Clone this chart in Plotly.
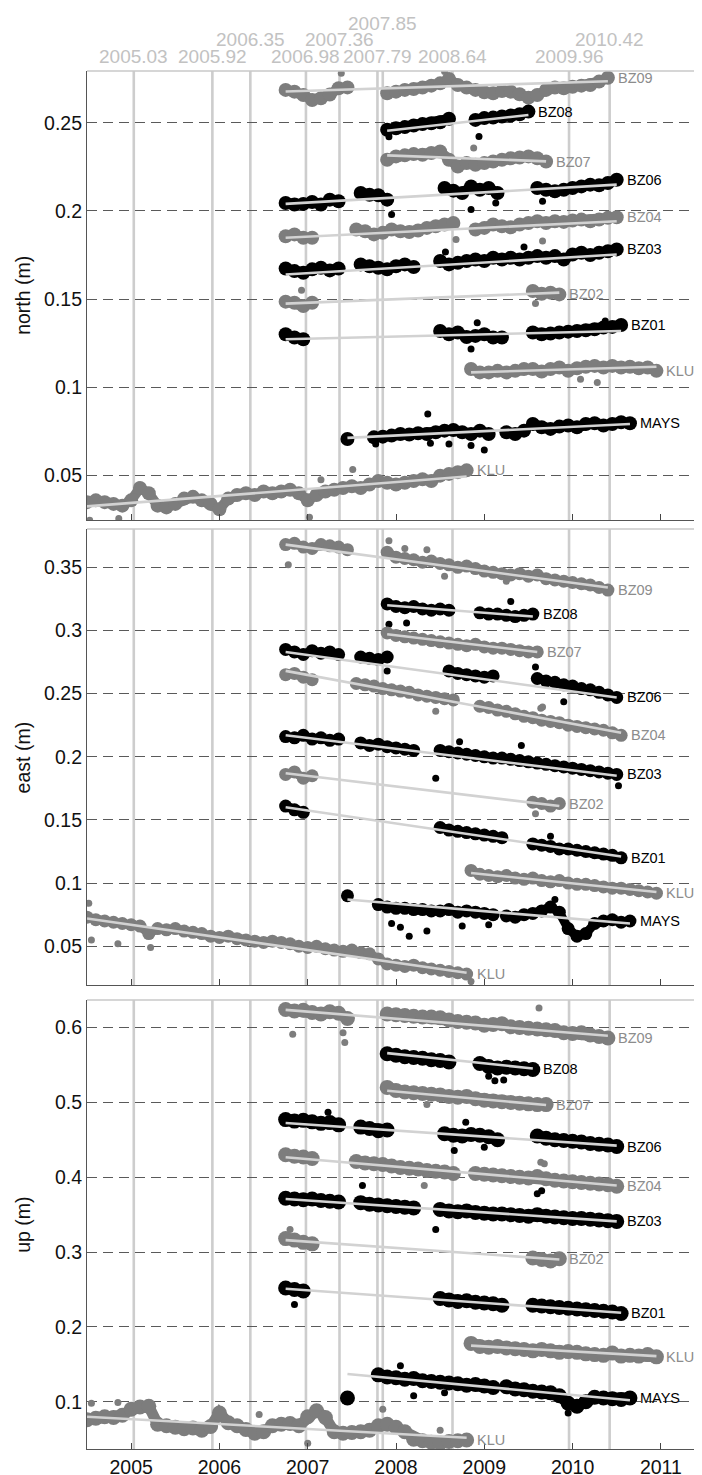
import plotly.graph_objects as go

# ---------------- data ----------------
YEARS = [2005, 2006, 2007, 2008, 2009, 2010, 2011]
EPOCHS_ROW1 = [2005.03, 2005.92, 2006.98, 2007.79, 2008.64, 2009.96]
EPOCHS_ROW2 = [2006.35, 2007.36, 2010.42]
EPOCHS_ROW3 = [2007.85]
STATIONS = ["BZ09", "BZ08", "BZ07", "BZ06", "BZ04", "BZ03", "BZ02", "BZ01", "KLUC", "MAYS", "KLU"]
GREY_STATIONS = ["BZ09", "BZ07", "BZ04", "BZ02", "KLUC", "KLU"]
STEP = 0.1  # sample spacing (yr) of the values below

NORTH_TICKS = [0.05, 0.1, 0.15, 0.2, 0.25]
EAST_TICKS = [0.05, 0.1, 0.15, 0.2, 0.25, 0.3, 0.35]
UP_TICKS = [0.1, 0.2, 0.3, 0.4, 0.5, 0.6]

# segments: (start epoch, values every STEP years)
NORTH_SEGMENTS = {
    "BZ09": [(2006.75, [0.2686, 0.2676, 0.2657, 0.2629, 0.2639, 0.2660, 0.2695, 0.2700]),
             (2007.9, [0.2667, 0.2676, 0.2686, 0.2691, 0.2699, 0.2710, 0.2723, 0.2748, 0.2714, 0.2699,
                       0.2686, 0.2672, 0.2667, 0.2680, 0.2676, 0.2661, 0.2642, 0.2657, 0.2686, 0.2699,
                       0.2695, 0.2704, 0.2710, 0.2714, 0.2733, 0.2755])],
    "BZ08": [(2007.9, [0.2460, 0.2469, 0.2475, 0.2484, 0.2492, 0.2497, 0.2503, 0.2522]),
             (2008.9, [0.2516, 0.2526, 0.2529, 0.2535, 0.2541, 0.2548, 0.2563])],
    "BZ07": [(2007.9, [0.2290, 0.2309, 0.2315, 0.2322, 0.2318, 0.2328, 0.2337, 0.2290, 0.2252, 0.2271,
                       0.2262, 0.2271, 0.2280, 0.2290, 0.2299, 0.2303, 0.2309, 0.2299, 0.2280])],
    "BZ06": [(2006.75, [0.2045, 0.2036, 0.2040, 0.2051, 0.2036]),
             (2007.25, [0.2064, 0.2055]),
             (2007.6, [0.2102, 0.2092, 0.2089, 0.2064]),
             (2008.55, [0.2130, 0.2115, 0.2102, 0.2139, 0.2120, 0.2130, 0.2102]),
             (2009.6, [0.2130, 0.2120, 0.2111, 0.2120, 0.2130, 0.2139, 0.2149, 0.2145, 0.2158, 0.2177])],
    "BZ04": [(2006.75, [0.1857, 0.1867, 0.1848, 0.1848]),
             (2007.55, [0.1895, 0.1885, 0.1867, 0.1876, 0.1895, 0.1885, 0.1881, 0.1889, 0.1904, 0.1913,
                        0.1923, 0.1932]),
             (2008.9, [0.1895, 0.1904, 0.1923, 0.1913, 0.1908, 0.1923, 0.1932, 0.1942, 0.1932, 0.1942,
                       0.1938, 0.1946, 0.1951, 0.1942, 0.1951, 0.1961, 0.1964])],
    "BZ03": [(2006.75, [0.1674, 0.1659, 0.1650, 0.1669, 0.1678, 0.1663, 0.1674]),
             (2007.6, [0.1697, 0.1687, 0.1678, 0.1669, 0.1687, 0.1697, 0.1682]),
             (2008.5, [0.1716, 0.1697, 0.1706, 0.1716, 0.1725, 0.1716, 0.1735, 0.1725, 0.1735, 0.1725,
                       0.1735, 0.1744, 0.1735, 0.1744, 0.1725, 0.1753, 0.1763, 0.1750, 0.1763, 0.1772,
                       0.1782])],
    "BZ02": [(2006.75, [0.1486, 0.1480, 0.1461, 0.1480]),
             (2009.55, [0.1546, 0.1531, 0.1537, 0.1527])],
    "BZ01": [(2006.75, [0.1301, 0.1283, 0.1273]),
             (2008.5, [0.1320, 0.1301, 0.1311, 0.1286, 0.1292, 0.1301, 0.1283, 0.1283]),
             (2009.55, [0.1311, 0.1301, 0.1305, 0.1311, 0.1316, 0.1320, 0.1324, 0.1330, 0.1339, 0.1343,
                        0.1354])],
    "KLUC": [(2008.85, [0.1104, 0.1085, 0.1085, 0.1094, 0.1085, 0.1094, 0.1104, 0.1104, 0.1090, 0.1104,
                        0.1113, 0.1094, 0.1109, 0.1117, 0.1122, 0.1113, 0.1122, 0.1113, 0.1117, 0.1109,
                        0.1113, 0.1094])],
    "MAYS": [(2007.45, [0.0708]),
             (2007.75, [0.0717, 0.0721, 0.0727, 0.0736, 0.0733, 0.0740, 0.0736, 0.0746, 0.0755, 0.0759,
                        0.0746, 0.0736, 0.0755, 0.0736]),
             (2009.25, [0.0746, 0.0736, 0.0755]),
             (2009.55, [0.0793, 0.0774, 0.0765, 0.0778, 0.0784, 0.0774, 0.0793, 0.0797, 0.0784, 0.0793,
                        0.0803, 0.0797])],
    "KLU": [(2004.5, [0.035, 0.036, 0.035, 0.034, 0.033, 0.036, 0.043, 0.040, 0.033, 0.032,
                      0.034, 0.037, 0.038, 0.036, 0.034, 0.031, 0.037, 0.039, 0.040, 0.039,
                      0.041, 0.040, 0.041, 0.042, 0.040, 0.036, 0.039, 0.041, 0.042, 0.043,
                      0.044, 0.043, 0.045, 0.047, 0.046, 0.045, 0.046, 0.047, 0.048, 0.047,
                      0.050, 0.051, 0.052, 0.053])],
}
NORTH_OUTLIERS = {
    "BZ09": [(2007.38, 0.2780), (2008.55, 0.2790)],
    "BZ08": [(2008.94, 0.2422), (2007.92, 0.2420)],
    "BZ07": [(2008.88, 0.2356)],
    "BZ06": [(2007.95, 0.1980), (2008.85, 0.2008), (2009.13, 0.2045), (2009.66, 0.2055)],
    "BZ04": [(2008.68, 0.1838), (2009.66, 0.1829)],
    "BZ03": [(2008.56, 0.1768), (2009.45, 0.1795)],
    "BZ02": [(2009.58, 0.1475), (2006.93, 0.1550)],
    "BZ01": [(2008.85, 0.1217), (2008.92, 0.1367), (2010.37, 0.1377)],
    "KLUC": [(2010.28, 0.1028), (2010.09, 0.1047)],
    "MAYS": [(2008.36, 0.0849), (2008.39, 0.0684), (2008.6, 0.0680), (2008.85, 0.0671),
             (2009.0, 0.0646), (2007.77, 0.0680)],
    "KLU": [(2004.53, 0.0247), (2004.86, 0.0257), (2007.51, 0.0535), (2007.02, 0.0265), (2007.15, 0.0477)],
}
NORTH_TRENDS = {
    "BZ09": (0.2677, 0.2735), "BZ08": (0.2454, 0.2544), "BZ07": (0.2315, 0.2281),
    "BZ06": (0.2040, 0.2149), "BZ04": (0.1848, 0.1942), "BZ03": (0.1640, 0.1753),
    "BZ02": (0.1475, 0.1537), "BZ01": (0.1273, 0.1320), "KLUC": (0.1085, 0.1117),
    "MAYS": (0.0714, 0.0793), "KLU": (0.0326, 0.0495),
}

EAST_SEGMENTS = {
    "BZ09": [(2006.75, [0.368, 0.369, 0.366, 0.365, 0.368, 0.367, 0.366, 0.364]),
             (2007.9, [0.362, 0.358, 0.357, 0.356, 0.354, 0.355, 0.353, 0.352, 0.350, 0.351,
                       0.349, 0.347, 0.346, 0.345, 0.344, 0.345, 0.343, 0.344, 0.341, 0.340,
                       0.339, 0.338, 0.337, 0.336, 0.334, 0.332])],
    "BZ08": [(2007.9, [0.321, 0.319, 0.318, 0.319, 0.317, 0.316, 0.317, 0.316]),
             (2008.95, [0.314, 0.313, 0.313, 0.312, 0.311, 0.312, 0.313])],
    "BZ07": [(2007.9, [0.298, 0.296, 0.295, 0.294, 0.293, 0.292, 0.291, 0.290, 0.289, 0.288,
                       0.289, 0.287, 0.286, 0.286, 0.285, 0.284, 0.283, 0.283])],
    "BZ06": [(2006.75, [0.285, 0.283, 0.281, 0.284, 0.282]),
             (2007.25, [0.283, 0.281]),
             (2007.6, [0.279, 0.278, 0.277, 0.279]),
             (2008.6, [0.268, 0.266, 0.265, 0.264, 0.263, 0.264]),
             (2009.6, [0.262, 0.260, 0.259, 0.257, 0.256, 0.254, 0.253, 0.251, 0.249, 0.247])],
    "BZ04": [(2006.75, [0.265, 0.266, 0.263, 0.261]),
             (2007.55, [0.258, 0.257, 0.256, 0.254, 0.253, 0.252, 0.251, 0.249, 0.248, 0.247, 0.246, 0.245]),
             (2008.95, [0.240, 0.239, 0.237, 0.236, 0.234, 0.232, 0.231, 0.229, 0.228, 0.227,
                        0.225, 0.224, 0.223, 0.222, 0.221, 0.219, 0.217])],
    "BZ03": [(2006.75, [0.216, 0.215, 0.217, 0.214, 0.215, 0.213, 0.214]),
             (2007.6, [0.211, 0.209, 0.210, 0.208, 0.207, 0.206, 0.205]),
             (2008.5, [0.205, 0.204, 0.203, 0.202, 0.201, 0.200, 0.199, 0.199, 0.198, 0.197,
                       0.196, 0.195, 0.194, 0.193, 0.192, 0.191, 0.190, 0.189, 0.188, 0.187, 0.186])],
    "BZ02": [(2006.75, [0.186, 0.188, 0.183, 0.185]),
             (2009.55, [0.164, 0.163, 0.161, 0.163])],
    "BZ01": [(2006.75, [0.161, 0.158, 0.156]),
             (2008.5, [0.144, 0.142, 0.141, 0.140, 0.139, 0.138, 0.137, 0.136]),
             (2009.55, [0.131, 0.130, 0.129, 0.127, 0.127, 0.126, 0.125, 0.124, 0.123, 0.122, 0.120])],
    "KLUC": [(2008.85, [0.110, 0.107, 0.106, 0.105, 0.106, 0.104, 0.103, 0.104, 0.102, 0.101,
                        0.102, 0.100, 0.099, 0.099, 0.098, 0.097, 0.096, 0.096, 0.095, 0.094,
                        0.093, 0.092])],
    "MAYS": [(2007.45, [0.090]),
             (2007.8, [0.083, 0.081, 0.080, 0.080, 0.079, 0.079, 0.078, 0.078, 0.079, 0.077,
                       0.078, 0.077, 0.076, 0.075]),
             (2009.25, [0.074, 0.073, 0.075]),
             (2009.55, [0.076, 0.078, 0.081, 0.077, 0.064, 0.058, 0.060, 0.068, 0.070, 0.071, 0.069, 0.070])],
    "KLU": [(2004.5, [0.073, 0.071, 0.070, 0.069, 0.068, 0.067, 0.066, 0.060, 0.064, 0.063,
                      0.064, 0.062, 0.061, 0.060, 0.058, 0.057, 0.058, 0.056, 0.055, 0.054,
                      0.053, 0.054, 0.053, 0.052, 0.050, 0.049, 0.050, 0.048, 0.047, 0.046,
                      0.047, 0.045, 0.044, 0.040, 0.036, 0.035, 0.034, 0.035, 0.033, 0.032,
                      0.031, 0.030, 0.029, 0.028])],
}
EAST_OUTLIERS = {
    "BZ09": [(2007.92, 0.371), (2008.1, 0.365), (2008.35, 0.364), (2008.55, 0.343), (2009.25, 0.339),
             (2006.78, 0.352)],
    "BZ08": [(2007.92, 0.305), (2008.12, 0.306), (2009.3, 0.323)],
    "BZ07": [],
    "BZ06": [(2009.58, 0.271), (2009.9, 0.2435), (2007.9, 0.268)],
    "BZ04": [(2009.64, 0.2385), (2009.66, 0.2395), (2008.45, 0.236)],
    "BZ03": [(2008.45, 0.183), (2010.52, 0.177), (2008.72, 0.212), (2009.42, 0.209)],
    "BZ02": [(2009.58, 0.155)],
    "BZ01": [(2009.75, 0.137)],
    "KLUC": [],
    "MAYS": [(2008.05, 0.065), (2008.15, 0.058), (2008.35, 0.062), (2008.75, 0.066), (2009.8, 0.087),
             (2007.95, 0.068), (2009.05, 0.067)],
    "KLU": [(2004.52, 0.084), (2004.55, 0.055), (2004.85, 0.052), (2005.22, 0.049), (2008.85, 0.022)],
}
EAST_TRENDS = {
    "BZ09": (0.368, 0.334), "BZ08": (0.320, 0.311), "BZ07": (0.297, 0.283),
    "BZ06": (0.283, 0.247), "BZ04": (0.268, 0.219), "BZ03": (0.217, 0.185),
    "BZ02": (0.187, 0.161), "BZ01": (0.160, 0.121), "KLUC": (0.108, 0.093),
    "MAYS": (0.087, 0.068), "KLU": (0.072, 0.029),
}

UP_SEGMENTS = {
    "BZ09": [(2006.75, [0.624, 0.622, 0.623, 0.620, 0.618, 0.621, 0.619, 0.612]),
             (2007.9, [0.618, 0.617, 0.616, 0.615, 0.614, 0.614, 0.613, 0.610, 0.608, 0.607,
                       0.606, 0.603, 0.604, 0.605, 0.601, 0.600, 0.599, 0.598, 0.597, 0.596,
                       0.593, 0.592, 0.593, 0.590, 0.588, 0.586])],
    "BZ08": [(2007.9, [0.565, 0.563, 0.561, 0.560, 0.559, 0.557, 0.556, 0.554]),
             (2008.95, [0.552, 0.548, 0.546, 0.547, 0.546, 0.545, 0.544])],
    "BZ07": [(2007.9, [0.520, 0.516, 0.514, 0.513, 0.512, 0.511, 0.510, 0.508, 0.507, 0.508,
                       0.505, 0.503, 0.502, 0.501, 0.500, 0.499, 0.498, 0.497, 0.497])],
    "BZ06": [(2006.75, [0.477, 0.475, 0.476, 0.474, 0.472]),
             (2007.25, [0.473, 0.470]),
             (2007.6, [0.467, 0.465, 0.462, 0.463]),
             (2008.55, [0.458, 0.456, 0.455, 0.457, 0.456, 0.454, 0.450]),
             (2009.6, [0.455, 0.452, 0.450, 0.449, 0.448, 0.447, 0.445, 0.444, 0.443, 0.441])],
    "BZ04": [(2006.75, [0.430, 0.428, 0.427, 0.425]),
             (2007.55, [0.421, 0.419, 0.418, 0.417, 0.415, 0.413, 0.412, 0.411, 0.409, 0.408, 0.407, 0.405]),
             (2008.9, [0.405, 0.404, 0.403, 0.402, 0.401, 0.400, 0.399, 0.401, 0.398, 0.396,
                       0.395, 0.394, 0.393, 0.392, 0.391, 0.390, 0.388])],
    "BZ03": [(2006.75, [0.372, 0.371, 0.370, 0.371, 0.369, 0.368, 0.367]),
             (2007.6, [0.366, 0.364, 0.363, 0.362, 0.361, 0.360, 0.359]),
             (2008.5, [0.357, 0.355, 0.354, 0.355, 0.353, 0.352, 0.351, 0.351, 0.350, 0.349,
                       0.348, 0.350, 0.348, 0.347, 0.346, 0.345, 0.345, 0.344, 0.343, 0.342, 0.341])],
    "BZ02": [(2006.75, [0.318, 0.316, 0.313, 0.311]),
             (2009.55, [0.292, 0.290, 0.288, 0.291])],
    "BZ01": [(2006.75, [0.252, 0.250, 0.248]),
             (2008.5, [0.238, 0.236, 0.234, 0.235, 0.233, 0.232, 0.231, 0.229]),
             (2009.55, [0.229, 0.228, 0.227, 0.226, 0.225, 0.224, 0.223, 0.222, 0.221, 0.220, 0.218])],
    "KLUC": [(2008.85, [0.178, 0.174, 0.173, 0.174, 0.172, 0.171, 0.170, 0.168, 0.170, 0.168,
                        0.166, 0.167, 0.166, 0.164, 0.163, 0.162, 0.165, 0.161, 0.162, 0.161,
                        0.163, 0.160])],
    "MAYS": [(2007.45, [0.105]),
             (2007.8, [0.136, 0.133, 0.132, 0.130, 0.131, 0.128, 0.127, 0.126, 0.125, 0.124,
                       0.122, 0.123, 0.121, 0.119]),
             (2009.25, [0.120, 0.117, 0.116]),
             (2009.55, [0.114, 0.113, 0.112, 0.108, 0.098, 0.094, 0.100, 0.106, 0.105, 0.104, 0.103, 0.105])],
    "KLU": [(2004.5, [0.076, 0.078, 0.080, 0.079, 0.082, 0.090, 0.093, 0.094, 0.070, 0.068,
                      0.066, 0.064, 0.065, 0.062, 0.067, 0.085, 0.072, 0.068, 0.063, 0.058,
                      0.060, 0.068, 0.070, 0.071, 0.068, 0.080, 0.088, 0.079, 0.060, 0.058,
                      0.059, 0.060, 0.062, 0.068, 0.070, 0.066, 0.060, 0.050, 0.048, 0.046,
                      0.045, 0.047, 0.048, 0.049])],
}
UP_OUTLIERS = {
    "BZ09": [(2006.83, 0.591), (2007.4, 0.593), (2007.42, 0.580), (2009.62, 0.626)],
    "BZ08": [(2009.12, 0.529), (2009.22, 0.530), (2009.05, 0.535)],
    "BZ07": [(2008.35, 0.497)],
    "BZ06": [(2007.23, 0.4867), (2008.79, 0.4733), (2009.0, 0.440), (2008.66, 0.4356)],
    "BZ04": [(2008.32, 0.389), (2009.64, 0.420), (2009.68, 0.418)],
    "BZ03": [(2007.62, 0.389), (2009.6, 0.378), (2009.65, 0.382), (2008.45, 0.330)],
    "BZ02": [(2006.8, 0.330)],
    "BZ01": [(2006.85, 0.230)],
    "KLUC": [],
    "MAYS": [(2008.05, 0.148), (2008.55, 0.112), (2009.95, 0.085), (2008.2, 0.108)],
    "KLU": [(2004.55, 0.098), (2004.85, 0.099), (2007.0, 0.0445), (2006.45, 0.083), (2008.5, 0.062),
            (2007.85, 0.090)],
}
UP_TRENDS = {
    "BZ09": (0.6236, 0.589), "BZ08": (0.5658, 0.5453), "BZ07": (0.5156, 0.4965),
    "BZ06": (0.4725, 0.4422), "BZ04": (0.4267, 0.3889), "BZ03": (0.371, 0.341),
    "BZ02": (0.316, 0.290), "BZ01": (0.251, 0.219), "KLUC": (0.175, 0.161),
    "MAYS": (0.137, 0.102), "KLU": (0.080, 0.052),
}

# ---------------- styling ----------------
FONT = "Liberation Sans, Arial, Helvetica, sans-serif"
GREY_PT = "#7d7d7d"
GREY_LBL = "#8c8c8c"
BLACK_PT = "#000000"
TREND_C = "#d2d2d2"
EPOCH_C = "#cdcdcd"
EPOCH_LBL_C = "#c2c2c2"

panels = [
    dict(title="north (m)", seg=NORTH_SEGMENTS, out=NORTH_OUTLIERS, trend=NORTH_TRENDS,
         ticks=NORTH_TICKS, rng=[0.0249, 0.2793], dom=[0.6742, 1.0], msize=14, lw=10),
    dict(title="east (m)", seg=EAST_SEGMENTS, out=EAST_OUTLIERS, trend=EAST_TRENDS,
         ticks=EAST_TICKS, rng=[0.0193, 0.3803], dom=[0.3367, 0.6676], msize=13, lw=9),
    dict(title="up (m)", seg=UP_SEGMENTS, out=UP_OUTLIERS, trend=UP_TRENDS,
         ticks=UP_TICKS, rng=[0.0369, 0.6369], dom=[0.0, 0.3259], msize=15, lw=11),
]


def expand(segments):
    xs, ys = [], []
    for t0, vals in segments:
        for i, v in enumerate(vals):
            xs.append(round(t0 + STEP * i, 3))
            ys.append(v)
        xs.append(None)
        ys.append(None)
    return xs, ys


fig = go.Figure()
annotations = []
shapes = []

for p_i, p in enumerate(panels):
    n = p_i + 1
    xa = "x" if n == 1 else f"x{n}"
    ya = "y" if n == 1 else f"y{n}"
    # data points
    for st in STATIONS:
        grey = st in GREY_STATIONS
        col = GREY_PT if grey else BLACK_PT
        xs, ys = expand(p["seg"][st])
        fig.add_trace(go.Scatter(x=xs, y=ys, mode="lines+markers", xaxis=xa, yaxis=ya,
                                 line=dict(color=col, width=p["lw"]),
                                 marker=dict(size=p["msize"], color=col, line=dict(width=0)),
                                 connectgaps=False, showlegend=False, hoverinfo="skip"))
        ox = [o[0] for o in p["out"][st]]
        oy = [o[1] for o in p["out"][st]]
        if ox:
            fig.add_trace(go.Scatter(x=ox, y=oy, mode="markers", xaxis=xa, yaxis=ya,
                                     marker=dict(size=7, color=col, line=dict(width=0)),
                                     showlegend=False, hoverinfo="skip"))
    # trend lines and labels
    for st in STATIONS:
        segs = p["seg"][st]
        t_start = segs[0][0]
        t_end = round(segs[-1][0] + STEP * (len(segs[-1][1]) - 1), 3)
        v0, v1 = p["trend"][st]
        fig.add_trace(go.Scatter(x=[t_start, t_end], y=[v0, v1], mode="lines", xaxis=xa, yaxis=ya,
                                 line=dict(color=TREND_C, width=2.6),
                                 showlegend=False, hoverinfo="skip"))
        grey = st in GREY_STATIONS
        annotations.append(dict(x=t_end, y=segs[-1][1][-1], xref=xa, yref=ya, text=st,
                                showarrow=False, xanchor="left", yanchor="middle", xshift=8,
                                font=dict(family=FONT, size=14.5, color=GREY_LBL if grey else "#000000")))
    # epoch vertical lines
    for e in EPOCHS_ROW1 + EPOCHS_ROW2 + EPOCHS_ROW3:
        shapes.append(dict(type="line", x0=e, x1=e, xref=xa, y0=0, y1=1, yref=f"{ya} domain",
                           line=dict(color=EPOCH_C, width=2.6), layer="below"))
    # light top / right frame
    shapes.append(dict(type="line", x0=0, x1=1, xref=f"{xa} domain", y0=1, y1=1, yref=f"{ya} domain",
                       line=dict(color="#c8c8c8", width=1.5)))
    shapes.append(dict(type="line", x0=1, x1=1, xref=f"{xa} domain", y0=0, y1=1, yref=f"{ya} domain",
                       line=dict(color="#c8c8c8", width=1.5)))
    # axis title
    annotations.append(dict(x=-0.103, y=(p["dom"][0] + p["dom"][1]) / 2, xref="paper", yref="paper",
                            text=p["title"], textangle=-90, showarrow=False,
                            xanchor="center", yanchor="middle",
                            font=dict(family=FONT, size=19.5, color="#111111")))

    fig.update_layout(**{
        ("xaxis" if n == 1 else f"xaxis{n}"): dict(
            range=[2004.5, 2011.5], domain=[0, 1], anchor=ya,
            tickvals=YEARS, ticktext=[str(y) for y in YEARS], showticklabels=(n == 3),
            ticks="inside", ticklen=6, tickcolor="#444444", showgrid=False, zeroline=False,
            showline=True, linecolor="#555555", linewidth=1.2,
            tickfont=dict(family=FONT, size=19.5, color="#111111")),
        ("yaxis" if n == 1 else f"yaxis{n}"): dict(
            range=p["rng"], domain=p["dom"], anchor=xa,
            tickvals=p["ticks"], ticktext=[f"{t:g}" for t in p["ticks"]], ticks="",
            showgrid=True, gridcolor="#5a5a5a", gridwidth=1, griddash="10px,6px", zeroline=False,
            showline=True, linecolor="#555555", linewidth=1.2,
            tickfont=dict(family=FONT, size=19.5, color="#111111")),
    })

# epoch labels above the top panel
for row, shift in ((EPOCHS_ROW1, 15), (EPOCHS_ROW2, 32), (EPOCHS_ROW3, 48)):
    for e in row:
        annotations.append(dict(x=e, y=1, xref="x", yref="paper", text=f"{e:.2f}", showarrow=False,
                                xanchor="center", yanchor="middle", yshift=shift,
                                font=dict(family=FONT, size=19, color=EPOCH_LBL_C)))

fig.update_layout(
    width=702, height=1475,
    margin=dict(l=79, r=5, t=63, b=31),
    paper_bgcolor="white", plot_bgcolor="white",
    annotations=annotations, shapes=shapes,
    showlegend=False,
)

fig.write_html("out.html")
